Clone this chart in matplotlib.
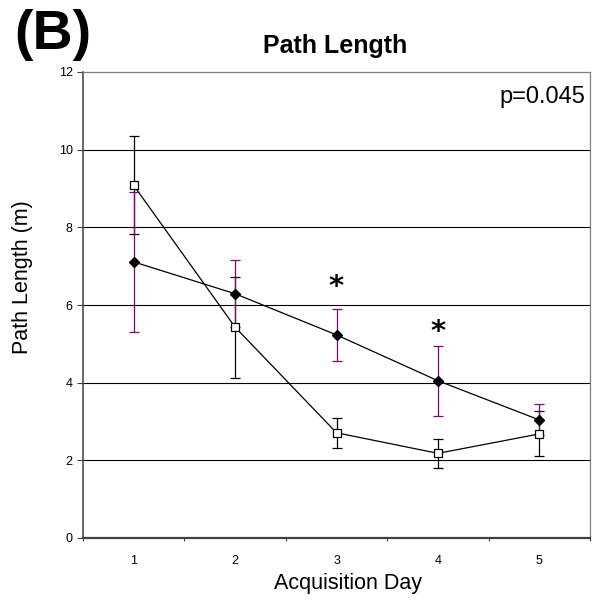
import matplotlib
matplotlib.use("Agg")
import matplotlib.pyplot as plt
from matplotlib.ticker import FixedLocator, NullFormatter

plt.rcParams['font.family'] = ['Liberation Sans', 'DejaVu Sans']

# ---- data ----
days = [1, 2, 3, 4, 5]
day_labels = ["1", "2", "3", "4", "5"]
diamond_mean = [7.11, 6.29, 5.23, 4.05, 3.04]
diamond_err = [1.80, 0.86, 0.67, 0.90, 0.40]
square_mean = [9.08, 5.43, 2.71, 2.18, 2.68]
square_err = [1.26, 1.30, 0.38, 0.37, 0.58]
sig_days = [3, 4]
sig_y = [6.47, 5.30]
yticks = [0, 2, 4, 6, 8, 10, 12]
p_text = "p=0.045"

W, H = 599, 606
fig = plt.figure(figsize=(W / 100, H / 100), dpi=100)
ax = fig.add_axes([83 / W, 1 - 538 / H, (590 - 83) / W, (538 - 72) / H])

purple = '#800080'

# error bars: black (squares) then purple (diamonds)
ax.errorbar(days, square_mean, yerr=square_err, fmt='none', ecolor='black',
            elinewidth=0.9, capsize=3.3, capthick=0.9, zorder=2)
ax.errorbar(days, diamond_mean, yerr=diamond_err, fmt='none', ecolor=purple,
            elinewidth=0.9, capsize=3.3, capthick=0.9, zorder=3)

# lines
ax.plot(days, diamond_mean, color='black', lw=0.9, zorder=4)
ax.plot(days, square_mean, color='black', lw=0.9, zorder=4)
# markers
ax.plot(days, diamond_mean, linestyle='none', marker='D', markersize=5.2,
        markerfacecolor='black', markeredgecolor='black', zorder=5)
ax.plot(days, square_mean, linestyle='none', marker='s', markersize=5.2,
        markerfacecolor='white', markeredgecolor='black', markeredgewidth=0.9, zorder=5)

for d, y in zip(sig_days, sig_y):
    ax.text(d, y, "*", ha='center', va='center', fontsize=21, fontweight='bold',
            family='DejaVu Sans', color='black')

ax.set_xlim(0.5, 5.5)
ax.set_ylim(0, 12)

# y axis
ax.set_yticks(yticks)
ax.set_yticklabels([str(t) for t in yticks], fontsize=9)
ax.tick_params(axis='y', direction='out', length=4.5, width=0.8, color='#404040', pad=3)
for t in yticks[1:-1]:
    ax.axhline(t, color='black', lw=0.8, zorder=1)

# x axis: boundary ticks, labels at centers
ax.xaxis.set_major_locator(FixedLocator([0.5, 1.5, 2.5, 3.5, 4.5, 5.5]))
ax.xaxis.set_major_formatter(NullFormatter())
ax.xaxis.set_minor_locator(FixedLocator(days))
ax.set_xticklabels(day_labels, minor=True, fontsize=9)
ax.tick_params(axis='x', which='major', direction='out', length=2.5, width=0.8, color='#404040')
ax.tick_params(axis='x', which='minor', length=0, pad=12)

for s in ['top', 'right']:
    ax.spines[s].set_color('#808080')
    ax.spines[s].set_linewidth(0.9)
ax.spines['left'].set_color('#404040')
ax.spines['left'].set_linewidth(1.1)
ax.spines['bottom'].set_color('#404040')
ax.spines['bottom'].set_linewidth(1.6)

# texts
fig.text(335 / W, 1 - 53 / H, "Path Length", ha='center', va='baseline',
         fontsize=18, fontweight='bold')
fig.text(14 / W, 1 - 35 / H, "(B)", ha='left', va='center',
         fontsize=40, fontweight='bold')
ax.text(585 / W, 1 - 102.5 / H, p_text, transform=fig.transFigure,
        ha='right', va='baseline', fontsize=17)
fig.text(347.5 / W, 1 - 583 / H, "Acquisition Day", ha='center', va='center', fontsize=15.5)
fig.text(23 / W, 1 - 277 / H, "Path Length (m)", ha='center', va='center',
         rotation=90, fontsize=15.5)

fig.savefig("out.png", dpi=100)
